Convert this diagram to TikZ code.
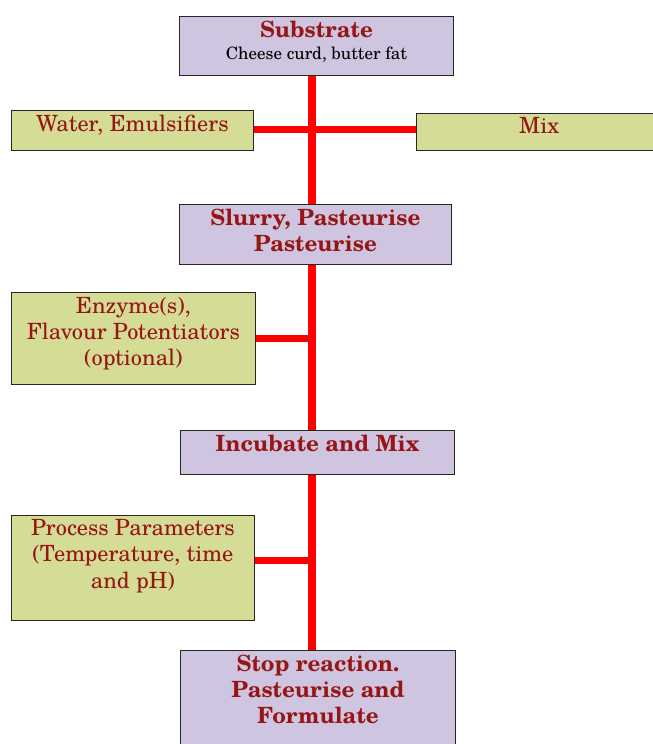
\documentclass[tikz,border=0pt]{standalone}
\usepackage{fontspec}
\setmainfont{TeX Gyre Schola}
\definecolor{stepfill}{RGB}{207,197,224}
\definecolor{inputfill}{RGB}{213,220,150}
\definecolor{textred}{RGB}{150,22,22}
\tikzset{
  box/.style={draw=black!85, inner sep=0pt, anchor=north west},
  stepbox/.style={box, fill=stepfill},
  inbox/.style={box, fill=inputfill},
  boxtext/.style={anchor=north, align=center, text=textred, inner sep=2pt, font=\fontsize{10.5}{12.3}\selectfont},
  steptext/.style={boxtext, font=\fontsize{10.5}{12.3}\selectfont\bfseries},
  redline/.style={red, line width=#1},
  redline/.default=3.4pt
}
\begin{document}
\begin{tikzpicture}[x=0.47pt, y=-0.47pt]
  \clip (0,0) rectangle (653,744);
  \coordinate (spine) at (312,0);
  % process steps
  \node[stepbox, minimum width=128.8pt, minimum height=27.7pt,
    label={[steptext]north:{Substrate\\[-2pt]{\color{black}\mdseries\footnotesize Cheese curd, butter fat}}}] (sub) at (179,16) {};
  \node[stepbox, minimum width=127.8pt, minimum height=28.2pt,
    label={[steptext]north:{Slurry, Pasteurise\\Pasteurise}}] (slurry) at (179,204) {};
  \node[stepbox, minimum width=128.8pt, minimum height=20.7pt,
    label={[steptext]north:{Incubate and Mix}}] (incub) at (180,430) {};
  \node[stepbox, minimum width=129.3pt, minimum height=61pt,
    label={[steptext]north:{Stop reaction.\\Pasteurise and\\Formulate}}] (stop) at (180,650) {};
  % inputs
  \node[inbox, minimum width=113.7pt, minimum height=18.8pt,
    label={[boxtext]north:{Water, Emulsifiers}}] (water) at (11,110) {};
  \node[inbox, minimum width=133.5pt, minimum height=17.4pt,
    label={[boxtext, xshift=-9pt]north:{Mix}}] (mix) at (416,113) {};
  \node[inbox, minimum width=114.7pt, minimum height=43.2pt,
    label={[boxtext]north:{Enzyme(s),\\Flavour Potentiators\\(optional)}}] (enz) at (11,292) {};
  \node[inbox, minimum width=114.2pt, minimum height=49.4pt,
    label={[boxtext]north:{Process Parameters\\(Temperature, time\\and pH)}}] (proc) at (11,515) {};
  % connectors
  \draw[redline=4.2pt] (sub.south -| spine) -- (slurry.north -| spine);
  \draw[redline=4.2pt] (slurry.south -| spine) -- (incub.north -| spine);
  \draw[redline=4.2pt] (incub.south -| spine) -- (stop.north -| spine);
  \draw[redline] ([yshift=0.5pt]water.east) -- ([yshift=0.5pt]water.east -| mix.west);
  \draw[redline] (enz.east) -- (enz.east -| spine);
  \draw[redline] ([yshift=3.4pt]proc.east) -- ([yshift=3.4pt]proc.east -| spine);
\end{tikzpicture}
\end{document}
